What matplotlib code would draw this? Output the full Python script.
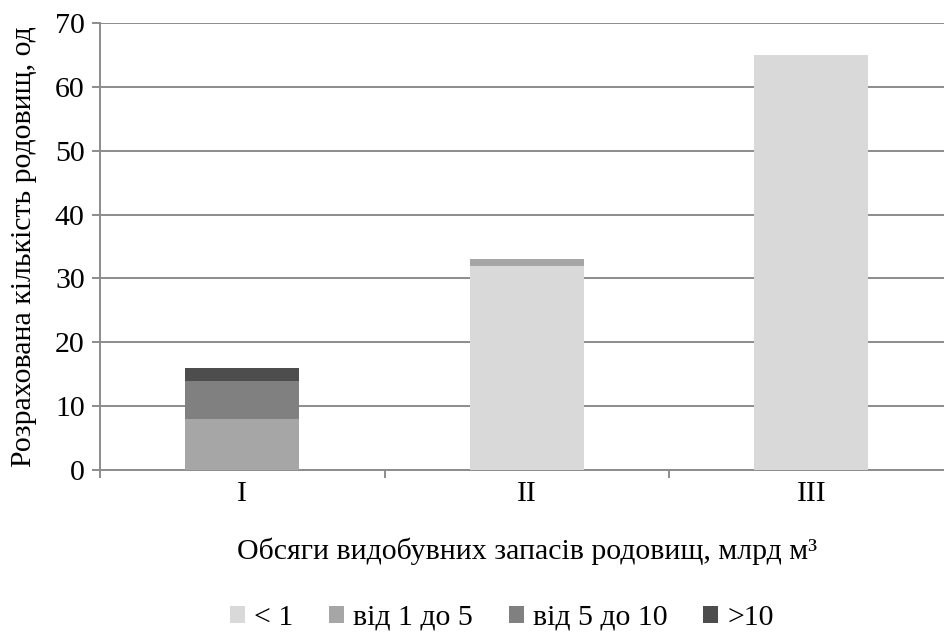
import matplotlib
matplotlib.use("Agg")
import matplotlib.pyplot as plt
import numpy as np

categories = ["I", "II", "III"]
series_names = ["< 1", "від 1 до 5", "від 5 до 10", ">10"]
lt1 = [0, 32, 65]
from1to5 = [8, 1, 0]
from5to10 = [6, 0, 0]
gt10 = [2, 0, 0]
colors = ["#d9d9d9", "#a6a6a6", "#808080", "#4d4d4d"]

plt.rcParams['font.family'] = ['Liberation Serif', 'DejaVu Serif']
FS = 21.5

fig = plt.figure(figsize=(9.45, 6.42), dpi=100)
ax = fig.add_axes([100/945, 1-470/642, 853.5/945, 447/642])

x = np.arange(len(categories))
bottom = np.zeros(len(categories))
for name, vals, c in zip(series_names, [lt1, from1to5, from5to10, gt10], colors):
    ax.bar(x, vals, width=0.4, bottom=bottom, color=c, label=name, zorder=3)
    bottom += np.array(vals)

gc = "#8c8c8c"
ax.set_xlim(-0.5, 2.5)
ax.set_ylim(0, 70)
ax.set_yticks(range(0, 71, 10))
ax.yaxis.grid(True, color=gc, linewidth=1.4, zorder=0)
ax.set_axisbelow(True)
for s in ["top", "right"]:
    ax.spines[s].set_visible(False)
for s in ["left", "bottom"]:
    ax.spines[s].set_color(gc)
    ax.spines[s].set_linewidth(1.4)
ax.set_xticks(x)
ax.set_xticklabels(categories)
ax.set_xticks([-0.5, 0.5, 1.5, 2.5], minor=True)
ax.tick_params(axis='x', which='major', length=0, labelsize=FS, pad=8)
ax.tick_params(axis='x', which='minor', length=6, width=1.4, color=gc)
ax.tick_params(axis='y', which='major', length=6, width=1.4, color=gc, labelsize=FS, pad=5)

ax.set_xlabel("Обсяги видобувних запасів родовищ, млрд м³", fontsize=FS, labelpad=22)
ax.set_ylabel("Розрахована кількість родовищ, од", fontsize=FS, labelpad=13)

fig.legend(loc="center", bbox_to_anchor=(502/945, 1-618/642), ncol=4, frameon=False,
           fontsize=FS, handlelength=0.5, handleheight=0.5, handletextpad=0.3,
           columnspacing=1.2)

fig.savefig("out.png", dpi=100)
